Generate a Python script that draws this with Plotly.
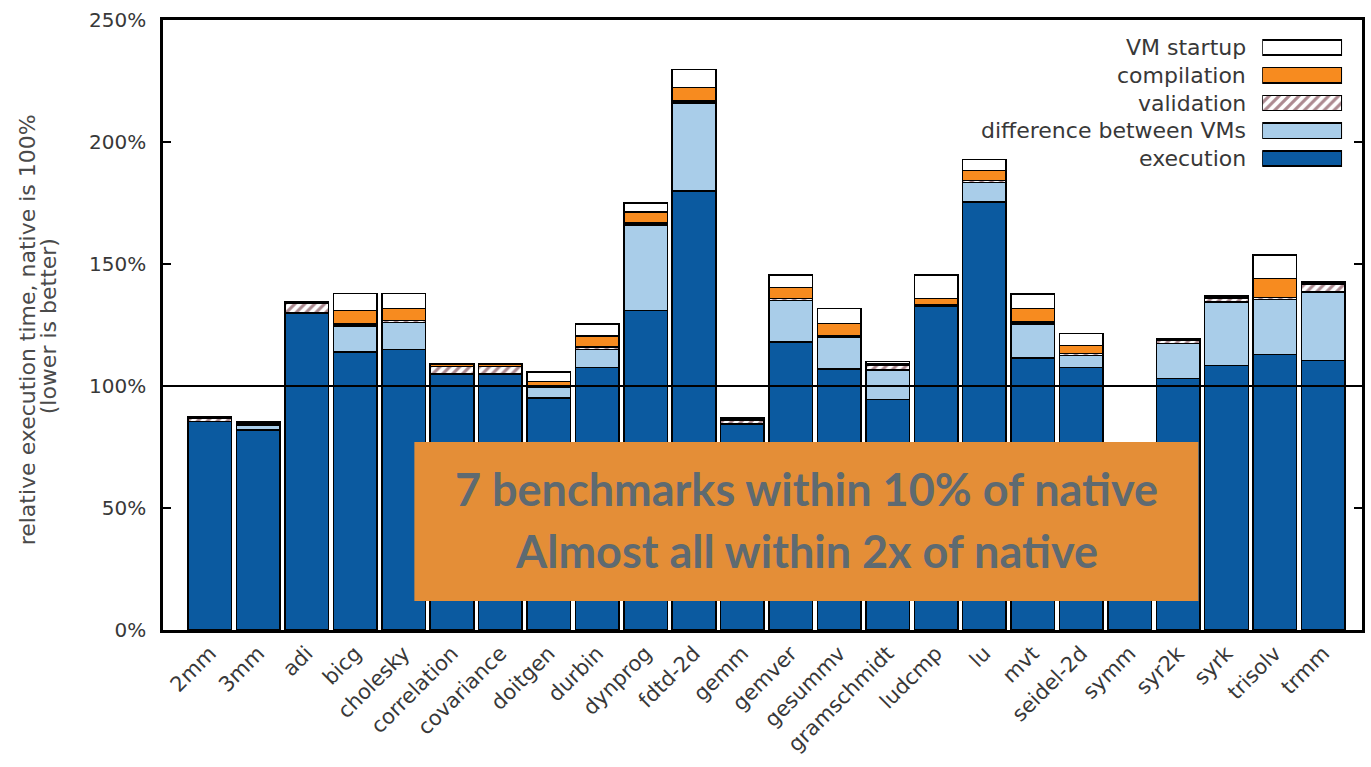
import plotly.graph_objects as go

# Polybench benchmarks, relative execution time vs. native (in %)
benchmarks = ["2mm", "3mm", "adi", "bicg", "cholesky", "correlation", "covariance",
              "doitgen", "durbin", "dynprog", "fdtd-2d", "gemm", "gemver", "gesummv",
              "gramschmidt", "ludcmp", "lu", "mvt", "seidel-2d", "symm", "syr2k",
              "syrk", "trisolv", "trmm"]

execution = [85.5, 82.0, 130.0, 114.0, 115.0, 105.0, 105.0, 95.0, 107.5, 131.0, 180.0, 84.5,
             118.0, 107.0, 94.5, 132.5, 175.5, 111.5, 107.5, 72.0, 103.0, 108.5, 113.0, 110.5]
vm_difference = [0.0, 2.0, 0.0, 10.5, 11.0, 0.0, 0.0, 4.5, 7.5, 35.0, 36.0, 0.0,
                 17.0, 13.0, 12.0, 0.0, 8.0, 14.0, 5.0, 0.0, 14.5, 26.0, 22.5, 28.0]
validation = [1.2, 0.8, 4.0, 1.0, 0.8, 3.0, 3.0, 0.8, 1.0, 0.8, 0.8, 1.5,
              0.8, 0.8, 2.2, 0.8, 0.8, 0.8, 0.8, 0.5, 1.2, 1.5, 0.8, 3.3]
compilation = [0.3, 0.3, 0.3, 5.5, 5.0, 0.8, 0.8, 1.5, 4.5, 4.5, 5.5, 0.4,
               4.5, 4.8, 0.5, 2.5, 4.0, 5.4, 3.3, 0.3, 0.4, 0.4, 7.8, 0.5]
vm_startup = [0.3, 0.3, 0.3, 7.0, 6.2, 0.5, 0.5, 4.0, 5.0, 3.6, 7.5, 0.4,
              5.2, 6.2, 0.8, 9.7, 4.6, 6.0, 5.0, 0.3, 0.4, 0.5, 9.6, 0.5]

y_ticks = [0, 50, 100, 150, 200, 250]
y_tick_labels = ["0%", "50%", "100%", "150%", "200%", "250%"]

# Stack order bottom -> top, with legend labels and fills
series = [
    ("execution", execution, "#0b5aa0", None),
    ("difference between VMs", vm_difference, "#a9cde9", None),
    ("validation", validation, "white", "/"),
    ("compilation", compilation, "#f78b1f", None),
    ("VM startup", vm_startup, "white", None),
]

HATCH = "#5a1422"
TEXT = "#383838"
FONT = "DejaVu Sans"

# Figure pixel geometry
W, H = 1371, 767
ML, MR, MT, MB = 163, 6, 20, 137
PW, PH = W - ML - MR, H - MT - MB


def px_x(px):
    return (px - ML) / PW


def px_y(py):
    return (H - MB - py) / PH


def bar_marker(color, hatch):
    marker = dict(color=color, line=dict(color="black", width=1.5))
    if hatch:
        marker["pattern"] = dict(shape=hatch, fgcolor=HATCH, bgcolor="white",
                                 size=7, solidity=0.45)
    return marker


fig = go.Figure()
idx = list(range(len(benchmarks)))

for name, vals, color, hatch in series:
    fig.add_trace(go.Bar(x=idx, y=vals, name=name, marker=bar_marker(color, hatch),
                         width=0.9, showlegend=False, xaxis="x", yaxis="y"))

# Key swatches drawn on a small inset axis (top row = VM startup)
for row, (name, vals, color, hatch) in enumerate(series):
    fig.add_trace(go.Bar(x=[1], y=[row], orientation="h", marker=bar_marker(color, hatch),
                         width=0.55, showlegend=False, xaxis="x2", yaxis="y2",
                         hoverinfo="skip"))

legend_rows_py = [158.5, 130.5, 103.5, 75.5, 47.5]  # execution ... VM startup
for (name, _, _, _), py in zip(series, legend_rows_py):
    fig.add_annotation(x=px_x(1251), y=px_y(py), xref="paper", yref="paper",
                       text=name, showarrow=False, xanchor="right", yanchor="middle",
                       font=dict(family=FONT, size=22, color=TEXT))

# y-axis title (two lines)
fig.add_annotation(x=px_x(27), y=px_y(330), xref="paper", yref="paper",
                   text="relative execution time, native is 100%", textangle=-90,
                   showarrow=False, xanchor="center", yanchor="middle",
                   font=dict(family=FONT, size=22, color="#4a4a4a"))
fig.add_annotation(x=px_x(48), y=px_y(326), xref="paper", yref="paper",
                   text="(lower is better)", textangle=-90,
                   showarrow=False, xanchor="center", yanchor="middle",
                   font=dict(family=FONT, size=22, color="#4a4a4a"))

# native baseline at 100%
fig.add_shape(type="line", xref="paper", yref="y", x0=0, x1=1, y0=100, y1=100,
              line=dict(color="black", width=2), layer="above")

# call-out box
fig.add_shape(type="rect", xref="paper", yref="paper",
              x0=px_x(415), x1=px_x(1201), y0=px_y(601), y1=px_y(442),
              fillcolor="#e48e37", line=dict(width=0), layer="above")
fig.add_annotation(x=px_x(808), y=px_y(489), xref="paper", yref="paper",
                   text="<b>7 benchmarks within 10% of native</b>", showarrow=False,
                   xanchor="center", yanchor="middle",
                   font=dict(family="Lato", size=45, color="#5e6a71"))
fig.add_annotation(x=px_x(808), y=px_y(551), xref="paper", yref="paper",
                   text="<b>Almost all within 2x of native</b>", showarrow=False,
                   xanchor="center", yanchor="middle",
                   font=dict(family="Lato", size=45, color="#5e6a71"))

fig.update_layout(
    width=W, height=H,
    margin=dict(l=ML, r=MR, t=MT, b=MB, pad=0),
    barmode="stack",
    plot_bgcolor="white", paper_bgcolor="white",
    showlegend=False,
    xaxis=dict(range=[-0.97, 23.8], tickmode="array", tickvals=idx, ticktext=benchmarks,
               tickangle=-45, tickfont=dict(family=FONT, size=21, color=TEXT),
               showgrid=False, zeroline=False, showline=True, linecolor="black",
               linewidth=2.5, mirror=True, ticks="", domain=[0, 1]),
    yaxis=dict(range=[0, 250], tickmode="array", tickvals=y_ticks, ticktext=y_tick_labels,
               tickfont=dict(family=FONT, size=20, color=TEXT), ticklabelstandoff=10,
               showgrid=False, zeroline=False, showline=True, linecolor="black",
               linewidth=2.5, mirror="ticks", ticks="inside", ticklen=8,
               tickcolor="black", tickwidth=2, domain=[0, 1]),
    xaxis2=dict(domain=[px_x(1265), px_x(1345)], range=[0, 1], anchor="y2",
                visible=False, fixedrange=True),
    yaxis2=dict(domain=[px_y(172.4), px_y(33.6)], range=[-0.5, 4.5], anchor="x2",
                visible=False, fixedrange=True),
    bargap=0.1,
)

fig.write_html("out.html")
